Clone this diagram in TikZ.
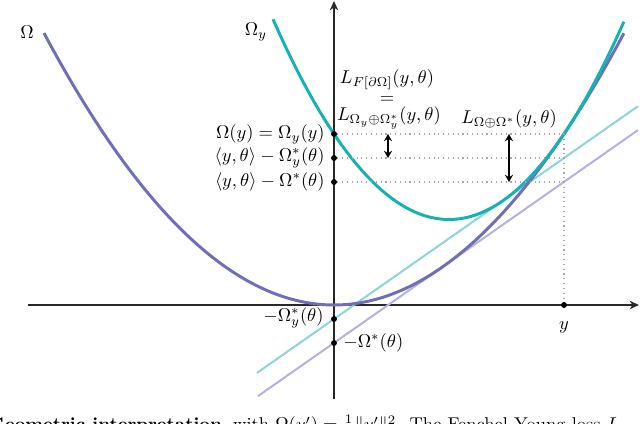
\documentclass[tikz,border=0pt]{standalone}
\usetikzlibrary{arrows.meta}
\definecolor{omegac}{RGB}{112,110,184}
\definecolor{tealc}{RGB}{20,178,178}
\definecolor{lteal}{RGB}{140,214,214}
\definecolor{lpurp}{RGB}{180,178,224}
\definecolor{axisc}{RGB}{40,40,40}
\tikzset{
  axisline/.style={draw=axisc, line width=0.8pt, -{Stealth[length=5pt,width=4.5pt,inset=1.5pt]}},
  omegacurve/.style={draw=omegac, line width=1.6pt},
  omegaycurve/.style={draw=tealc, line width=1.6pt},
  tanlinep/.style={draw=lpurp, line width=1.1pt},
  tanlinet/.style={draw=lteal, line width=1.1pt},
  guide/.style={draw=gray!70, dotted, line width=0.6pt},
  dotpt/.style={circle, fill=black, inner sep=0pt, minimum size=3.2pt},
  gap/.style={draw=black, line width=0.9pt, {Stealth[length=4pt,width=4.5pt,inset=1.5pt]}-{Stealth[length=4pt,width=4.5pt,inset=1.5pt]}},
  lbl/.style={inner sep=0pt, font=\normalsize}
}
\begin{document}
\begin{tikzpicture}[x=0.019cm,y=-0.019cm]
\useasboundingbox (0,0) rectangle (640,424);
\clip (0,0) rectangle (640,424);
% axes
\coordinate (xa) at (28,305);
\coordinate (xb) at (639,305);
\coordinate (ya) at (334,399);
\coordinate (yb) at (334,1);
\draw[axisline] (xa) -- (xb);
\draw[axisline] (ya) -- (yb);
% tangent lines
\coordinate (tpa) at (258,396.1);
\coordinate (tpb) at (638,130.1);
\coordinate (tta) at (257,372.9);
\coordinate (ttb) at (638,106.2);
\draw[tanlinep] (tpa) -- (tpb);
\draw[tanlinet] (tta) -- (ttb);
% curves
\draw[omegacurve] plot[domain=-2.9:2.9, samples=90, smooth] ({334+100*\x}, {305-32.33*\x*\x});
\draw[omegaycurve] plot[domain=-1.76:1.75, samples=80, smooth] ({449+100*\x}, {219.5-64.66*\x*\x});
% points
\node[dotpt] (p1) at (334,134) {};
\node[dotpt] (p2) at (334,158) {};
\node[dotpt] (p3) at (334,182) {};
\node[dotpt] (p4) at (334,319) {};
\node[dotpt] (p5) at (334,343) {};
\node[dotpt] (py) at (564,305) {};
\coordinate (q1) at (564,134);
\coordinate (q2) at (564,158);
\coordinate (q3) at (564,182);
% guides
\draw[guide] (p1) -- (q1);
\draw[guide] (p2) -- (q2);
\draw[guide] (p3) -- (q3);
\draw[guide] (q1) -- (py);
% gap arrows
\coordinate (g1a) at (388,134);
\coordinate (g1b) at (388,158);
\coordinate (g2a) at (509,134);
\coordinate (g2b) at (509,182);
\draw[gap] (g1a) -- (g1b);
\draw[gap] (g2a) -- (g2b);
% labels
\node[lbl] (lom) at (27,32) {$\Omega$};
\node[lbl] (lomy) at (256,32) {$\Omega_y$};
\node[lbl, anchor=east] (l1) at (325,134) {$\Omega(y) = \Omega_y(y)$};
\node[lbl, anchor=east] (l2) at (325,158) {$\langle y, \theta\rangle - \Omega_y^*(\theta)$};
\node[lbl, anchor=east] (l3) at (325,182) {$\langle y, \theta\rangle - \Omega^*(\theta)$};
\node[lbl, anchor=east] (l4) at (324,318) {$-\Omega_y^*(\theta)$};
\node[lbl, anchor=west] (l5) at (343,343) {$-\Omega^*(\theta)$};
\node[lbl] (ly) at (564,327) {$y$};
\node[lbl] (lfa) at (387,80) {$L_{F[\partial\Omega]}(y, \theta)$};
\node[lbl] (leq) at (387,100) {$=$};
\node[lbl] (lfb) at (389,118) {$L_{\Omega_y \oplus \Omega_y^*}(y, \theta)$};
\node[lbl] (lfc) at (509,119) {$L_{\Omega \oplus \Omega^*}(y, \theta)$};
% caption (cut off at the lower edge, as in the reference)
\node[lbl, anchor=base west] (cap) at (-12,431) {\textbf{Geometric interpretation}, with $\Omega(y') = \frac{1}{2}\|y'\|^2$. The Fenchel-Young loss $L$};
\end{tikzpicture}
\end{document}
